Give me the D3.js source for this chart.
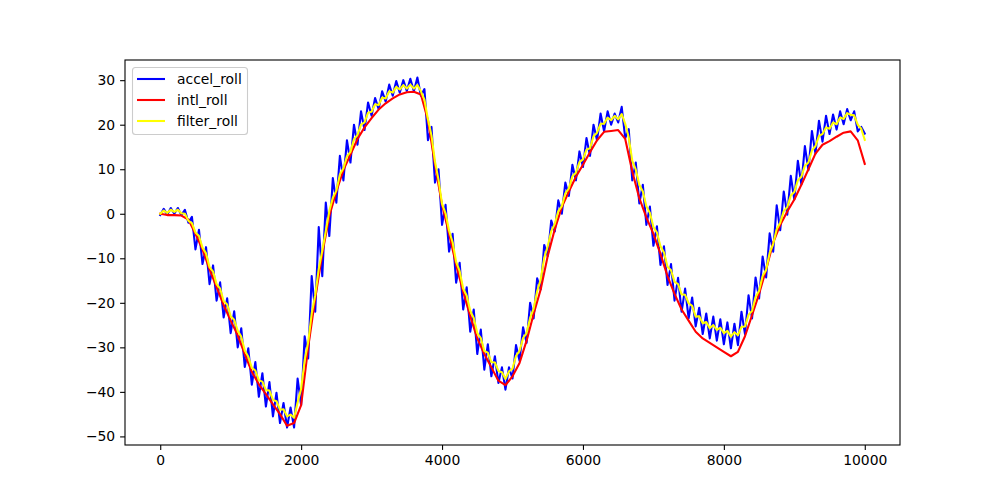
<!DOCTYPE html>
<html><head><meta charset="utf-8">
<script src="https://cdn.jsdelivr.net/npm/d3@7"></script>
<style>body{margin:0;background:#fff}svg{display:block}</style>
</head><body><svg id="chart" width="1000" height="500"></svg>
<script>
// ---- data ----
const seriesNames = ["accel_roll", "intl_roll", "filter_roll"];
const accelStep = 50;
const accelRoll = [
 -0.3, 1.1, -0.2, 1.3, 0, 1.3, -0.3, 0.9, -2, -0.7,
 -8, -3.6, -11.3, -7.5, -15.8, -11.6, -19.5, -15.4, -23.3, -19,
 -26.8, -21.9, -30, -25.7, -34.4, -30.2, -38.4, -33.3, -41.1, -35.8,
 -43.3, -37.8, -45.5, -40.2, -47, -42.5, -48, -43.5, -48, -37,
 -43, -27.5, -32.5, -14, -22, -3, -14, 2.5, -5, 8,
 2.5, 13, 7.5, 16.5, 11.5, 20, 15.5, 23, 18.8, 25,
 22, 26, 23.5, 27.5, 25.2, 29, 26.5, 29.8, 27.2, 30,
 27.6, 30.3, 27.5, 30.6, 26.5, 28, 16.5, 19.5, 7, 10,
 -2.5, 2, -8.5, -4.5, -15.5, -11, -21.5, -16.5, -26.5, -21.5,
 -31.5, -26, -35, -29.3, -36.5, -32, -38, -34.5, -39.5, -34.5,
 -37, -29.5, -33, -25.5, -29, -20, -23.5, -14.5, -17, -7,
 -9.5, -1.5, -4, 3, 0, 7, 4, 11, 7.5, 14,
 10.5, 17, 13, 20, 16.5, 22.5, 18.5, 23, 20, 22.5,
 20.5, 24, 17, 19, 7.5, 11.5, 2.3, 6.5, -2.5, 1.6,
 -7.2, -2.8, -11.5, -7.3, -16, -11.3, -19.5, -14.4, -22, -16.8,
 -23.5, -18.8, -25.3, -21.1, -27, -22.4, -28, -23.1, -28.5, -23.7,
 -29.3, -24.4, -30.2, -24.7, -29.5, -22, -27, -18.3, -23.5, -14.3,
 -19, -9.6, -14.3, -4.4, -8.5, 1.9, -3.7, 5, -0.2, 8.5,
 3.2, 11.9, 6.6, 15.2, 9.8, 18.6, 13.5, 20.9, 16.2, 22,
 17.9, 22.3, 18.9, 23, 20.1, 23.5, 21, 23, 18.5, 19.5,
 18
];
const intlStep = 100;
const intlRoll = [
 0, -0.3, -0.3, -0.4, -1.3, -4.5, -8, -12.5, -16.5, -20.5,
 -24, -27.3, -31.5, -35.5, -38.3, -40.5, -42.8, -45, -47.6, -47,
 -43, -30, -19, -9, -0.5, 5, 9.8, 13.3, 16.8, 19.4,
 21.5, 23.4, 24.8, 25.9, 26.8, 27.3, 27.4, 26.8, 21, 11,
 2, -4.5, -11.5, -17.5, -23, -28, -31.5, -34.5, -37.5, -38.5,
 -36.5, -33.5, -28.5, -22.5, -17, -9.5, -3.5, 1.5, 5, 8.3,
 11, 13.8, 16.5, 18.4, 18.6, 18.8, 16.8, 9.5, 3.5, -0.8,
 -4.5, -9, -14, -18, -21.5, -24, -26.5, -28, -29, -30,
 -31, -32, -31, -27.5, -22.8, -18, -12.5, -6.5, -2.5, 0.5,
 3.2, 6.5, 10, 13.5, 15.5, 16.3, 17.3, 18.2, 18.5, 16.5,
 11.2
];
const filterStep = 50;
const filterRoll = [
 0, 0.7, 0.2, 0.9, 0.4, 0.9, 0.1, 0, -1.6, -2.1,
 -4.2, -5, -7.6, -8.9, -12, -13, -15.8, -16.8, -19.6, -20.4,
 -23, -23.8, -26.3, -27.6, -30.7, -32.1, -34.6, -35.2, -37.4, -37.7,
 -39.6, -39.7, -41.8, -42.1, -44, -43.9, -45.5, -45.1, -45.8, -42.4,
 -39.3, -32.9, -28.8, -22.4, -18.3, -12.4, -8.3, -3.9, 0.6, 3.6,
 5.2, 8.8, 10.2, 12.9, 13.9, 16.7, 17.7, 20, 20.5, 22.7,
 22.9, 24.6, 24.4, 26.1, 25.9, 27.5, 27.2, 28.5, 27.9, 28.9,
 28.1, 29, 28.1, 28.9, 27.5, 25.6, 21.2, 17.6, 11.7, 7.6,
 2.2, 0.1, -3.8, -6.4, -10.8, -12.9, -16.8, -18.4, -21.8, -23.4,
 -26.8, -27.9, -30.8, -31.2, -33.3, -33.4, -35.3, -35.6, -37.1, -35.4,
 -34.8, -31.9, -30.8, -27.9, -26.8, -23.4, -21.3, -17.4, -14.8, -9.9,
 -7.3, -3.9, -2.3, 0.6, 1.7, 4.6, 5.7, 8.4, 9.2, 11.6,
 12.2, 14.4, 14.7, 17.4, 18.2, 20.2, 20.2, 21.6, 21, 22,
 21.2, 22.4, 20.2, 17.1, 11.9, 9.9, 6.5, 5, 1.7, 0.2,
 -3, -4.2, -7.3, -8.7, -11.9, -12.7, -15.3, -15.8, -18.1, -18.2,
 -20.1, -20.7, -23.1, -23, -24.6, -24.3, -25.7, -25, -26.1, -25.6,
 -26.8, -26.3, -27.6, -26.6, -27.3, -25.4, -25.3, -22.7, -21.8, -18.7,
 -17.3, -14, -12.6, -8.8, -6.8, -3.5, -2, 0.6, 1.5, 4.1,
 4.9, 7.5, 8.3, 10.8, 11.5, 14.2, 15.2, 17.5, 17.9, 19.4,
 19.1, 20.5, 20.1, 21.6, 21.3, 22.6, 22.2, 22.1, 20, 19.1,
 16.6
];
const xTicks = [0, 2000, 4000, 6000, 8000, 10000];
const yTicks = [-50, -40, -30, -20, -10, 0, 10, 20, 30];

// ---- styles / layout ----
const colors = ["#0000ff", "#ff0000", "#ffff00"];
const W = 1000, H = 500;
const m = {left: 125, right: 900, top: 60, bottom: 445};
const font = "'DejaVu Sans', sans-serif";
const fontSize = "13.9px";

const series = [
  {name: seriesNames[0], step: accelStep, values: accelRoll},
  {name: seriesNames[1], step: intlStep, values: intlRoll},
  {name: seriesNames[2], step: filterStep, values: filterRoll}
].map((s, k) => ({...s, color: colors[k], pts: s.values.map((v, i) => [i * s.step, v])}));

const allPts = series.flatMap(s => s.pts);
const [x0, x1] = d3.extent(allPts, p => p[0]);
const [y0, y1] = d3.extent(allPts, p => p[1]);
const px = (x1 - x0) * 0.05, py = (y1 - y0) * 0.05;

const x = d3.scaleLinear().domain([x0 - px, x1 + px]).range([m.left, m.right]);
const y = d3.scaleLinear().domain([y0 - py, y1 + py]).range([m.bottom, m.top]);

const svg = d3.select("#chart");
svg.append("rect").attr("width", W).attr("height", H).attr("fill", "#fff");

svg.append("defs").append("clipPath").attr("id", "clip")
  .append("rect").attr("x", m.left).attr("y", m.top)
  .attr("width", m.right - m.left).attr("height", m.bottom - m.top);

const line = d3.line().x(d => x(d[0])).y(d => y(d[1]));
const plot = svg.append("g").attr("clip-path", "url(#clip)");
series.forEach(s => {
  plot.append("path").datum(s.pts).attr("d", line)
    .attr("fill", "none").attr("stroke", s.color)
    .attr("stroke-width", 2.08).attr("stroke-linejoin", "round").attr("stroke-linecap", "square");
});

// axes
const xAxis = d3.axisBottom(x).tickValues(xTicks).tickFormat(d3.format("d")).tickSizeOuter(0).tickSize(4.9).tickPadding(4.9);
const yAxis = d3.axisLeft(y).tickValues(yTicks).tickFormat(d3.format("d")).tickSizeOuter(0).tickSize(4.9).tickPadding(4.9);
const gx = svg.append("g").attr("transform", `translate(0,${m.bottom})`).call(xAxis);
const gy = svg.append("g").attr("transform", `translate(${m.left},0)`).call(yAxis);
[gx, gy].forEach(g => {
  g.select(".domain").remove();
  g.selectAll(".tick line").attr("stroke", "#000").attr("stroke-width", 1.1);
  g.selectAll(".tick text").attr("fill", "#000").style("font-family", font).style("font-size", fontSize);
});

// spines
svg.append("rect").attr("x", m.left).attr("y", m.top)
  .attr("width", m.right - m.left).attr("height", m.bottom - m.top)
  .attr("fill", "none").attr("stroke", "#000").attr("stroke-width", 1.1);

// legend
const lg = svg.append("g");
lg.append("rect").attr("x", 132.5).attr("y", 67.5).attr("width", 115).attr("height", 67)
  .attr("rx", 3).attr("fill", "#fff").attr("fill-opacity", 0.8)
  .attr("stroke", "#cccccc").attr("stroke-width", 1.1);
series.forEach((s, i) => {
  const cy = 79 + i * 21;
  lg.append("line").attr("x1", 137).attr("x2", 165).attr("y1", cy).attr("y2", cy)
    .attr("stroke", s.color).attr("stroke-width", 2.08);
  lg.append("text").attr("x", 177).attr("y", cy + 4.8).text(s.name)
    .attr("fill", "#000").style("font-family", font).style("font-size", fontSize);
});
</script>
</body></html>
